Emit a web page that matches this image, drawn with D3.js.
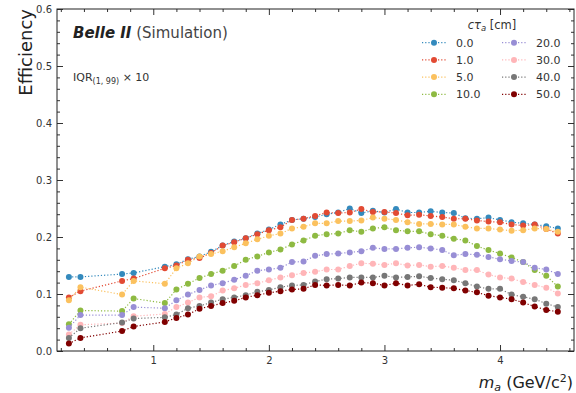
<!DOCTYPE html>
<html><head><meta charset="utf-8">
<script src="https://cdn.jsdelivr.net/npm/d3@7"></script>
<style>body{margin:0;background:#fff} text{font-family:"DejaVu Sans",sans-serif}</style>
</head><body><svg id="c" width="576" height="393"></svg>
<script>
// ---------- data ----------
const massPoints = [0.27,0.37,0.73,0.83,1.1,1.2,1.3,1.4,1.5,1.6,1.7,1.8,1.9,2.0,2.1,2.2,2.3,2.4,2.5,2.6,2.7,2.8,2.9,3.0,3.1,3.2,3.3,3.4,3.5,3.6,3.7,3.8,3.9,4.0,4.1,4.2,4.3,4.4,4.5];
const ctauLabels = ["0.0","1.0","5.0","10.0","20.0","30.0","40.0","50.0"];
const seriesColors = ["#348ABD","#E24A33","#FBC15E","#8EBA42","#988ED5","#FFB5B8","#777777","#800000"];
const eff_ctau0  = [0.130,0.130,0.135,0.137,0.148,0.152,0.161,0.166,0.174,0.185,0.192,0.198,0.206,0.213,0.222,0.230,0.232,0.235,0.240,0.243,0.250,0.242,0.246,0.243,0.249,0.243,0.243,0.245,0.243,0.242,0.233,0.232,0.234,0.230,0.226,0.224,0.222,0.219,0.215];
const eff_ctau1  = [0.094,0.105,0.123,0.127,0.145,0.150,0.160,0.163,0.172,0.185,0.191,0.198,0.205,0.212,0.217,0.230,0.232,0.237,0.243,0.242,0.243,0.249,0.244,0.244,0.242,0.238,0.239,0.237,0.235,0.232,0.232,0.229,0.227,0.226,0.222,0.220,0.222,0.214,0.206];
const eff_ctau5  = [0.089,0.112,0.099,0.123,0.118,0.145,0.154,0.166,0.170,0.175,0.182,0.189,0.196,0.202,0.206,0.215,0.218,0.224,0.224,0.228,0.228,0.229,0.234,0.232,0.230,0.226,0.223,0.223,0.222,0.222,0.218,0.215,0.215,0.213,0.211,0.212,0.215,0.214,0.209];
const eff_ctau10 = [0.047,0.071,0.070,0.092,0.084,0.108,0.118,0.128,0.135,0.141,0.149,0.160,0.166,0.173,0.178,0.187,0.194,0.202,0.205,0.206,0.212,0.209,0.215,0.217,0.212,0.210,0.210,0.205,0.202,0.197,0.194,0.184,0.177,0.171,0.164,0.156,0.142,0.132,0.113];
const eff_ctau20 = [0.041,0.063,0.063,0.077,0.075,0.089,0.099,0.107,0.115,0.119,0.125,0.132,0.141,0.143,0.146,0.156,0.157,0.167,0.170,0.171,0.173,0.175,0.181,0.179,0.179,0.181,0.182,0.180,0.177,0.168,0.170,0.169,0.165,0.161,0.158,0.156,0.146,0.143,0.135];
const eff_ctau30 = [0.029,0.046,0.049,0.061,0.065,0.077,0.085,0.094,0.096,0.106,0.110,0.116,0.119,0.124,0.129,0.133,0.137,0.139,0.143,0.143,0.149,0.154,0.153,0.151,0.154,0.150,0.151,0.148,0.149,0.146,0.142,0.142,0.134,0.129,0.127,0.121,0.116,0.111,0.101];
const eff_ctau40 = [0.023,0.040,0.050,0.057,0.059,0.064,0.075,0.079,0.085,0.091,0.094,0.098,0.104,0.107,0.112,0.115,0.116,0.122,0.126,0.127,0.129,0.129,0.129,0.132,0.129,0.130,0.131,0.128,0.126,0.124,0.119,0.113,0.109,0.109,0.099,0.095,0.091,0.083,0.077];
const eff_ctau50 = [0.013,0.023,0.035,0.043,0.051,0.058,0.064,0.074,0.079,0.084,0.088,0.094,0.098,0.102,0.105,0.108,0.109,0.116,0.115,0.116,0.115,0.120,0.119,0.115,0.119,0.115,0.117,0.112,0.111,0.110,0.106,0.103,0.097,0.094,0.091,0.085,0.078,0.072,0.069];
const allSeries = [eff_ctau0,eff_ctau1,eff_ctau5,eff_ctau10,eff_ctau20,eff_ctau30,eff_ctau40,eff_ctau50];
const xMajorTicks = [1,2,3,4];
const yMajorTicks = [0.0,0.1,0.2,0.3,0.4,0.5,0.6];

// ---------- layout ----------
const L=57, R=574, T=9, B=351;
const svg = d3.select("#c");
const x = d3.scaleLinear().domain([0.167,4.64]).range([L,R]);
const y = d3.scaleLinear().domain([0,0.6]).range([B,T]);

const xMinor = d3.range(0.2,4.61,0.2).filter(v=>Math.abs(v-Math.round(v))>1e-6);
const yMinor = d3.range(0,0.601,0.02).filter(v=>Math.abs(v*10-Math.round(v*10))>1e-6);

function styleAxis(g){ g.select(".domain").remove(); g.selectAll("line").attr("stroke","#333"); g.selectAll("text").attr("fill","#333").style("font-size","10px").style("font-family","DejaVu Sans"); }

svg.append("g").attr("transform",`translate(0,${B})`).call(d3.axisBottom(x).tickValues(xMajorTicks).tickSize(-6).tickPadding(6).tickFormat(d3.format("d"))).call(styleAxis);
svg.append("g").attr("transform",`translate(0,${B})`).call(d3.axisBottom(x).tickValues(xMinor).tickSize(-3).tickFormat("")).call(styleAxis);
svg.append("g").attr("transform",`translate(0,${T})`).call(d3.axisTop(x).tickValues(xMajorTicks).tickSize(-6).tickFormat("")).call(styleAxis);
svg.append("g").attr("transform",`translate(0,${T})`).call(d3.axisTop(x).tickValues(xMinor).tickSize(-3).tickFormat("")).call(styleAxis);
svg.append("g").attr("transform",`translate(${L},0)`).call(d3.axisLeft(y).tickValues(yMajorTicks).tickSize(-6).tickPadding(5).tickFormat(d3.format(".1f"))).call(styleAxis);
svg.append("g").attr("transform",`translate(${L},0)`).call(d3.axisLeft(y).tickValues(yMinor).tickSize(-3).tickFormat("")).call(styleAxis);
svg.append("g").attr("transform",`translate(${R},0)`).call(d3.axisRight(y).tickValues(yMajorTicks).tickSize(-6).tickFormat("")).call(styleAxis);
svg.append("g").attr("transform",`translate(${R},0)`).call(d3.axisRight(y).tickValues(yMinor).tickSize(-3).tickFormat("")).call(styleAxis);

svg.append("rect").attr("x",L).attr("y",T).attr("width",R-L).attr("height",B-T).attr("fill","none").attr("stroke","#222").attr("stroke-width",1);

// ---------- series ----------
const line = d3.line().x((d,i)=>x(massPoints[i])).y(d=>y(d));
allSeries.forEach((s,k)=>{
  const g = svg.append("g");
  g.append("path").datum(s).attr("d",line).attr("fill","none").attr("stroke",seriesColors[k]).attr("stroke-width",1.2).attr("stroke-dasharray","1.2,2");
  g.selectAll("circle").data(s).join("circle").attr("cx",(d,i)=>x(massPoints[i])).attr("cy",d=>y(d)).attr("r",3).attr("fill",seriesColors[k]);
});

// ---------- texts ----------
const t1 = svg.append("text").attr("x",73).attr("y",38).style("font-size","15px");
t1.append("tspan").text("Belle II").attr("font-weight","bold").attr("font-style","italic").attr("fill","#222");
t1.append("tspan").text(" (Simulation)").attr("fill","#444");

const t2 = svg.append("text").attr("x",73).attr("y",81).style("font-size","11px").attr("fill","#333");
t2.append("tspan").text("IQR");
t2.append("tspan").text("(1, 99)").style("font-size","8px").attr("dy",3);
t2.append("tspan").text(" × 10").attr("dy",-3);

svg.append("text").attr("transform","translate(32,9) rotate(-90)").attr("text-anchor","end").style("font-size","18px").attr("fill","#222").text("Efficiency");

const xl = svg.append("text").attr("x",573).attr("y",388).attr("text-anchor","end").style("font-size","16px").attr("fill","#222");
xl.append("tspan").text("m").attr("font-style","italic");
xl.append("tspan").text("a").attr("font-style","italic").style("font-size","11px").attr("dy",3);
xl.append("tspan").text(" (GeV/c").attr("dy",-3);
xl.append("tspan").text("2").style("font-size","11px").attr("dy",-6);
xl.append("tspan").text(")").attr("dy",6);

// ---------- legend ----------
const lt = svg.append("text").attr("x",492).attr("y",28.5).attr("text-anchor","middle").style("font-size","11.5px").attr("fill","#333");
lt.append("tspan").text("cτ").attr("font-style","italic");
lt.append("tspan").text("a").attr("font-style","italic").style("font-size","8.5px").attr("dy",2);
lt.append("tspan").text(" [cm]").attr("dy",-2);

ctauLabels.forEach((lab,k)=>{
  const col = Math.floor(k/4), row = k%4;
  const x0 = col===0 ? 422 : 502;
  const yy = 42.7 + row*17.2;
  const g = svg.append("g");
  g.append("line").attr("x1",x0).attr("x2",x0+24).attr("y1",yy).attr("y2",yy).attr("stroke",seriesColors[k]).attr("stroke-width",1.2).attr("stroke-dasharray","1.2,2");
  g.append("circle").attr("cx",x0+12).attr("cy",yy).attr("r",3).attr("fill",seriesColors[k]);
  g.append("text").attr("x",x0+34).attr("y",yy+4).style("font-size","11px").attr("fill","#333").text(lab);
});
</script></body></html>
